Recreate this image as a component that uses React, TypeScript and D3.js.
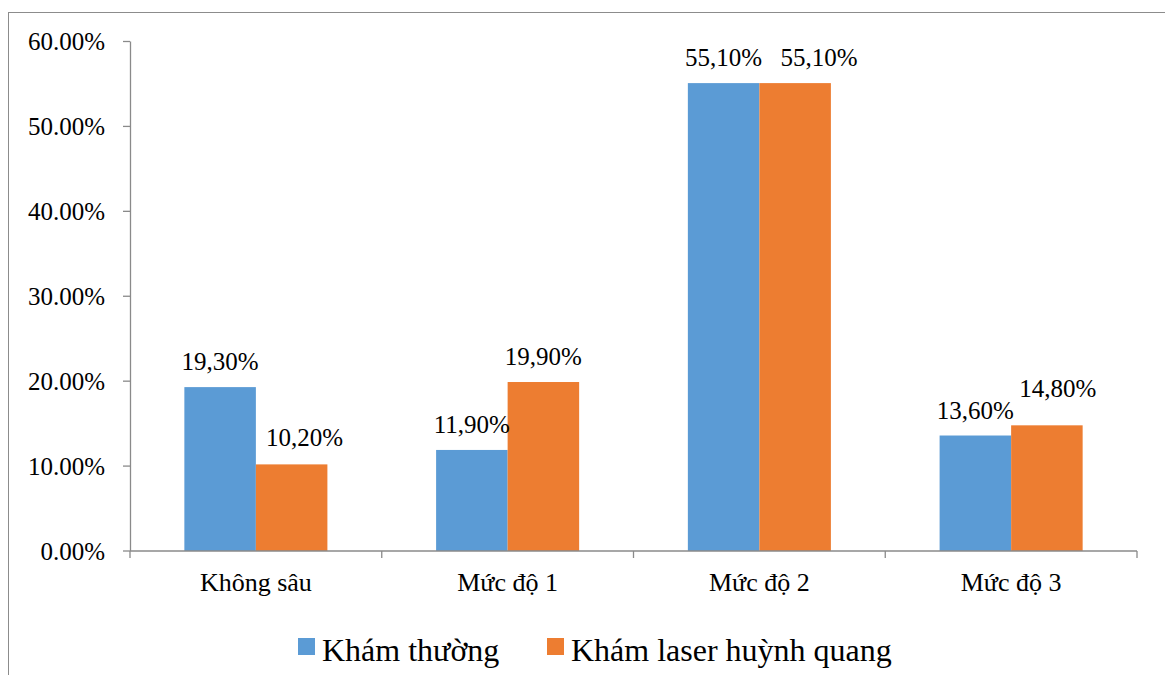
import React from "react";
import * as d3 from "d3";

const categories = ["Không sâu", "Mức độ 1", "Mức độ 2", "Mức độ 3"];
const seriesNames = ["Khám thường", "Khám laser huỳnh quang"];
const khamThuong = [0.193, 0.119, 0.551, 0.136];
const khamLaser = [0.102, 0.199, 0.551, 0.148];
const yTicks = [0, 0.1, 0.2, 0.3, 0.4, 0.5, 0.6];

// label nudges (px) for the second series' data labels, mimicking Excel's label placement
const laserLabelDx = [13, 0, 24, 11];
const laserLabelDy = [-1, 0, 0, -11];

const colors = ["#5B9BD5", "#ED7D31"];
const W = 1165;
const H = 675;
const FONT = "'Liberation Serif', 'Times New Roman', 'DejaVu Serif', serif";

export default function App() {
  const left = 130;
  const right = 1137;
  const top = 41.5;
  const bottom = 551;

  const x0 = d3.scaleBand<string>().domain(categories).range([left, right]).paddingInner(0).paddingOuter(0);
  const x1 = d3
    .scaleBand<string>()
    .domain(seriesNames)
    .range([0, x0.bandwidth()])
    .paddingInner(0)
    .paddingOuter(0.76);
  const y = d3.scaleLinear().domain([0, 0.6]).range([bottom, top]);
  const tickFmt = d3.format(".2%");
  const labelFmt = (v: number) => (v * 100).toFixed(2).replace(".", ",") + "%";

  const series = [khamThuong, khamLaser];
  const axisColor = "#8a8a8a";

  const boundaries = [...categories.map((c) => x0(c) as number), right];

  return (
    <svg
      width={W}
      height={H}
      style={{ position: "absolute", left: 0, top: 0, background: "#fff", fontFamily: FONT }}
    >
      <rect x={0} y={0} width={W} height={H} fill="#fff" />
      <rect x={8.5} y={12.5} width={W + 20} height={H + 20} fill="none" stroke="#8c8c8c" strokeWidth={1} />

      {/* bars */}
      {series.map((vals, si) =>
        vals.map((v, ci) => {
          const bx = (x0(categories[ci]) as number) + (x1(seriesNames[si]) as number);
          return (
            <rect
              key={`b${si}-${ci}`}
              x={bx}
              y={y(v)}
              width={x1.bandwidth()}
              height={bottom - y(v)}
              fill={colors[si]}
            />
          );
        })
      )}

      {/* y axis */}
      <line x1={left + 0.5} x2={left + 0.5} y1={top} y2={bottom} stroke={axisColor} strokeWidth={1.3} />
      {yTicks.map((t) => (
        <g key={`yt${t}`}>
          <line x1={left - 7} x2={left} y1={y(t)} y2={y(t)} stroke={axisColor} strokeWidth={1.3} />
          <text
            x={105}
            y={y(t)}
            dy="0.34em"
            textAnchor="end"
            style={{ fontFamily: FONT, fontSize: "25px" }}
            fill="#000"
          >
            {tickFmt(t)}
          </text>
        </g>
      ))}

      {/* x axis */}
      <line x1={left} x2={right} y1={bottom} y2={bottom} stroke={axisColor} strokeWidth={1.3} />
      {boundaries.map((bx, i) => (
        <line key={`xt${i}`} x1={bx} x2={bx} y1={bottom} y2={bottom + 7} stroke={axisColor} strokeWidth={1.3} />
      ))}
      {categories.map((c) => (
        <text
          key={`xl${c}`}
          x={(x0(c) as number) + x0.bandwidth() / 2}
          y={591}
          textAnchor="middle"
          style={{ fontFamily: FONT, fontSize: "26px" }}
          fill="#000"
        >
          {c}
        </text>
      ))}

      {/* data labels */}
      {series.map((vals, si) =>
        vals.map((v, ci) => {
          const cx = (x0(categories[ci]) as number) + (x1(seriesNames[si]) as number) + x1.bandwidth() / 2;
          const dx = si === 1 ? laserLabelDx[ci] : 0;
          const dy = si === 1 ? laserLabelDy[ci] : 0;
          return (
            <text
              key={`l${si}-${ci}`}
              x={cx + dx}
              y={y(v) - 17 + dy}
              textAnchor="middle"
              style={{ fontFamily: FONT, fontSize: "25px" }}
              fill="#000"
            >
              {labelFmt(v)}
            </text>
          );
        })
      )}

      {/* legend */}
      {seriesNames.map((s, i) => {
        const lx = [298, 547][i];
        return (
          <g key={`lg${s}`}>
            <rect x={lx} y={638} width={17} height={17} fill={colors[i]} />
            <text x={lx + 24} y={661} style={{ fontFamily: FONT, fontSize: "32px" }} fill="#000">
              {s}
            </text>
          </g>
        );
      })}
    </svg>
  );
}
